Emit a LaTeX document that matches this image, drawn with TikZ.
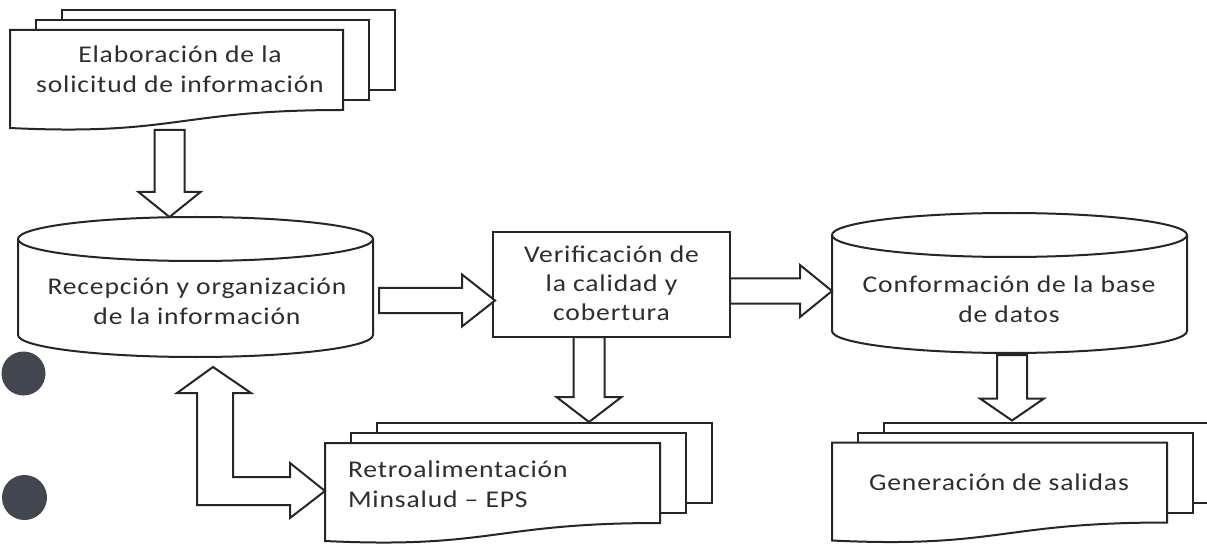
\documentclass[tikz,border=0pt]{standalone}
\usepackage{fontspec}
\setmainfont{Carlito}[FakeStretch=1.15,LetterSpace=3.5]
\usetikzlibrary{calc}
\definecolor{ink}{HTML}{262626}
\definecolor{txtc}{HTML}{2E2E2E}
\definecolor{dotc}{HTML}{41464F}
\newcommand\tstrut{\rule{0pt}{20pt}}
\newcommand\fatright[5]{\draw[fat] ($#1+(0,-#3)$) -- ($#2+(-#5,-#3)$) -- ($#2+(-#5,-#4)$) -- #2 -- ($#2+(-#5,#4)$) -- ($#2+(-#5,#3)$) -- ($#1+(0,#3)$) -- cycle;}
\newcommand\fatdown[5]{\draw[fat] ($#1+(-#3,0)$) -- ($#2+(-#3,-#5)$) -- ($#2+(-#4,-#5)$) -- #2 -- ($#2+(#4,-#5)$) -- ($#2+(#3,-#5)$) -- ($#1+(#3,0)$) -- cycle;}
\newcommand\drawcyl[2]{%
  \draw[ln, fill=white] ($(#1.north west)+(0,22)$) -- ($(#1.south west)+(0,-22)$)
     arc[start angle=180, end angle=360, x radius=#2pt, y radius=22pt]
     -- ($(#1.north east)+(0,22)$);
  \draw[ln, fill=white] ($(#1.north)+(0,22)$) ellipse [x radius=#2pt, y radius=22pt];
}
\newcommand\docstack[1]{%
  \foreach \dx/\dy in {52/-20, 26/-10}{
    \draw[ln, fill=white] ($(#1.north west)+(\dx,\dy)$) rectangle ($(#1.south east)+(\dx,\dy-18)$);
  }
  \draw[ln, fill=white] (#1.north west) -- (#1.north east) -- ($(#1.south east)+(0,-18)$)
     .. controls ($(#1.south)+(0,-18)$) and ($(#1.south)+(0,8)$) .. (#1.south west) -- cycle;
}
\begin{document}
\begin{tikzpicture}[x=1pt,y=-1pt,
  ln/.style={draw=ink,line width=2pt},
  fat/.style={draw=ink,line width=2pt,fill=white,line join=miter},
  shp/.style={inner sep=0pt,outer sep=0pt},
  txt/.style={inner sep=0pt,outer sep=0pt,text=txtc,font=\fontsize{24}{30}\selectfont,align=center,anchor=north}]
\useasboundingbox[fill=white] (0,0) rectangle (1207,545);

% shape nodes
\node[shp, minimum width=333pt, minimum height=98pt] (d1) at (176.5,79) {};
\node[shp, minimum width=355pt, minimum height=140pt] (c1) at (195.5,287) {};
\node[shp, minimum width=237pt, minimum height=105pt, draw=ink, line width=2pt, fill=white] (bx) at (611.5,284.5) {};
\node[shp, minimum width=355pt, minimum height=140pt] (c2) at (1009.5,283) {};
\node[shp, minimum width=335pt, minimum height=98pt] (d2) at (492.5,492) {};
\node[shp, minimum width=335pt, minimum height=98pt] (d3) at (999.5,491.5) {};

% shapes
\docstack{d1}
\drawcyl{c1}{177.5}
\drawcyl{c2}{177.5}
\docstack{d2}
\docstack{d3}

% texts
\node[txt] (t1) at (180,43) {\tstrut Elaboración de la\\solicitud de información};
\node[txt] (t2) at (197,274) {\tstrut Recepción y organización\\de la información};
\node[txt, font=\fontsize{24}{29}\selectfont] (t3) at (611.5,242) {\tstrut Verificación de\\la calidad y\\cobertura};
\node[txt] (t4) at (1009,272) {\tstrut Conformación de la base\\de datos};
\node[txt, align=left, anchor=north west] (t5) at (348,457) {\tstrut Retroalimentación\\Minsalud – EPS};
\node[txt] (t6) at (999,470) {\tstrut Generación de salidas};

% connectors
\coordinate (T1) at ($(c1.north)+(-26,0)$);
\coordinate (S1) at ($(T1 |- d1.south)+(0,2)$);
\fatdown{(S1)}{(T1)}{15}{31}{25}

\coordinate (T2) at ($(bx.west)+(2,16)$);
\coordinate (S2) at ($(c1.east |- T2)+(6,0)$);
\fatright{(S2)}{(T2)}{12.5}{26}{33}

\coordinate (T3) at ($(c2.west)+(0,8)$);
\coordinate (S3) at (bx.east |- T3);
\fatright{(S3)}{(T3)}{12.5}{26}{32}

\coordinate (S4) at ($(bx.south)+(-22.5,0)$);
\coordinate (T4) at ($(S4 |- d2.north)+(0,-21)$);
\fatdown{(S4)}{(T4)}{15.5}{32.5}{25}

\coordinate (S5) at ($(c2.south)+(2.5,2)$);
\coordinate (T5) at ($(S5 |- d3.north)+(0,-22)$);
\fatdown{(S5)}{(T5)}{15}{32}{22}

\coordinate (U) at ($(c1.south)+(17.5,10)$);
\coordinate (R) at ($(d2.west)+(0,-1)$);
\draw[fat] let \p1=(U), \p2=(R) in (\p1) -- ++(38,26) -- ++(-18,0)
  -- (\x1+20pt,\y2+14pt) -- (\x2-35pt,\y2+14pt) -- (\x2-35pt,\y2+28pt) -- (\p2)
  -- (\x2-35pt,\y2-27pt) -- (\x2-35pt,\y2-14pt) -- (\x1-16pt,\y2-14pt)
  -- (\x1-16pt,\y1-26pt) -- (\x1-36pt,\y1-26pt) -- cycle;

% scan marks
\fill[dotc] (23.5,373.5) circle[radius=22pt];
\fill[dotc] (24.5,497.5) circle[radius=22.5pt];
\end{tikzpicture}
\end{document}
